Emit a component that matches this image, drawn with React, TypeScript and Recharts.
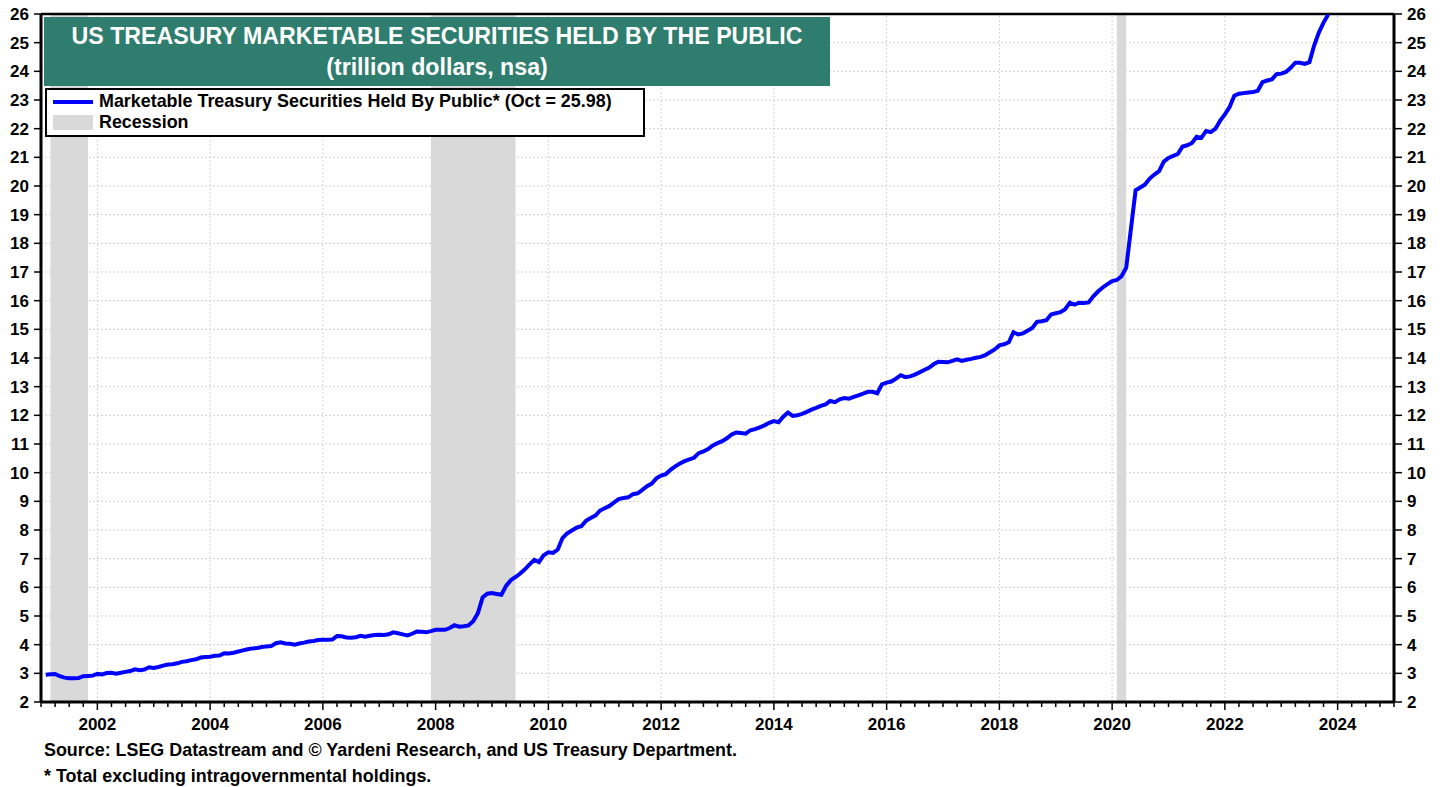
import React from "react";
import {
  LineChart,
  Line,
  XAxis,
  YAxis,
  CartesianGrid,
  ReferenceArea,
  ReferenceLine,
} from "recharts";

// monthly values, trillion dollars (month-end)
const v2001 = [2.95, 2.97, 2.98, 2.9, 2.85, 2.83, 2.83, 2.84, 2.9, 2.91, 2.92, 2.98];
const v2002 = [2.96, 3.01, 3.02, 2.99, 3.02, 3.05, 3.08, 3.14, 3.11, 3.13, 3.21, 3.19];
const v2003 = [3.22, 3.27, 3.31, 3.32, 3.35, 3.4, 3.42, 3.46, 3.49, 3.55, 3.57, 3.58];
const v2004 = [3.61, 3.62, 3.7, 3.69, 3.72, 3.76, 3.8, 3.84, 3.87, 3.88, 3.92, 3.94];
const v2005 = [3.95, 4.05, 4.08, 4.04, 4.03, 4.0, 4.04, 4.07, 4.11, 4.13, 4.16, 4.17];
const v2006 = [4.17, 4.18, 4.3, 4.29, 4.25, 4.24, 4.26, 4.31, 4.28, 4.31, 4.34, 4.35];
const v2007 = [4.34, 4.36, 4.43, 4.4, 4.36, 4.32, 4.38, 4.46, 4.45, 4.43, 4.47, 4.52];
const v2008 = [4.52, 4.52, 4.58, 4.68, 4.63, 4.64, 4.67, 4.82, 5.1, 5.65, 5.78, 5.8];
const v2009 = [5.77, 5.74, 6.05, 6.25, 6.36, 6.48, 6.63, 6.8, 6.96, 6.88, 7.12, 7.22];
const v2010 = [7.2, 7.32, 7.72, 7.88, 7.98, 8.08, 8.13, 8.32, 8.42, 8.5, 8.68, 8.76];
const v2011 = [8.84, 8.96, 9.08, 9.12, 9.14, 9.25, 9.28, 9.4, 9.53, 9.62, 9.8, 9.9];
const v2012 = [9.95, 10.1, 10.22, 10.32, 10.4, 10.46, 10.52, 10.68, 10.74, 10.82, 10.95, 11.03];
const v2013 = [11.1, 11.2, 11.33, 11.4, 11.38, 11.36, 11.48, 11.52, 11.58, 11.65, 11.74, 11.8];
const v2014 = [11.76, 11.95, 12.1, 11.98, 12.0, 12.05, 12.12, 12.2, 12.26, 12.33, 12.38, 12.5];
const v2015 = [12.46, 12.56, 12.6, 12.58, 12.64, 12.7, 12.76, 12.82, 12.82, 12.77, 13.08, 13.14];
const v2016 = [13.18, 13.28, 13.4, 13.33, 13.36, 13.42, 13.5, 13.58, 13.66, 13.78, 13.87, 13.86];
const v2017 = [13.85, 13.9, 13.95, 13.9, 13.94, 13.97, 14.01, 14.04, 14.1, 14.2, 14.3, 14.44];
const v2018 = [14.48, 14.55, 14.9, 14.82, 14.86, 14.95, 15.05, 15.26, 15.28, 15.32, 15.52, 15.56];
const v2019 = [15.6, 15.7, 15.93, 15.86, 15.93, 15.92, 15.94, 16.15, 16.32, 16.46, 16.58, 16.68];
const v2020 = [16.72, 16.85, 17.15, 18.5, 19.85, 19.95, 20.05, 20.26, 20.4, 20.52, 20.85, 20.98];
const v2021 = [21.05, 21.12, 21.38, 21.42, 21.5, 21.72, 21.68, 21.92, 21.88, 22.0, 22.28, 22.5];
const v2022 = [22.75, 23.15, 23.22, 23.24, 23.26, 23.28, 23.32, 23.62, 23.68, 23.72, 23.9, 23.92];
const v2023 = [23.98, 24.12, 24.3, 24.3, 24.26, 24.32, 24.9, 25.35, 25.7, 25.98];

const years = [2001, 2002, 2003, 2004, 2005, 2006, 2007, 2008, 2009, 2010, 2011, 2012,
  2013, 2014, 2015, 2016, 2017, 2018, 2019, 2020, 2021, 2022, 2023];
const yearValues = [v2001, v2002, v2003, v2004, v2005, v2006, v2007, v2008, v2009, v2010,
  v2011, v2012, v2013, v2014, v2015, v2016, v2017, v2018, v2019, v2020, v2021, v2022, v2023];

// recessions as [start, end] in decimal years
const recessions = [
  [2001.167, 2001.833],
  [2007.917, 2009.417],
  [2020.083, 2020.25],
];

const labeledYears = [2002, 2004, 2006, 2008, 2010, 2012, 2014, 2016, 2018, 2020, 2022, 2024];
const yTicks = [2, 3, 4, 5, 6, 7, 8, 9, 10, 11, 12, 13, 14, 15, 16, 17, 18, 19, 20, 21, 22, 23, 24, 25, 26];

const data: { t: number; value: number }[] = [];
years.forEach((yr, i) => {
  yearValues[i].forEach((v, m) => {
    data.push({ t: yr + (m + 1) / 12, value: v });
  });
});

const quarterTicks: number[] = [];
for (let i = 0; i <= 96; i++) quarterTicks.push(2001 + i / 4);

const FONT = "Arial, 'Liberation Sans', sans-serif";

const XTick = (props: any) => {
  const { x, y, payload } = props;
  const v = payload.value;
  const major = labeledYears.includes(v);
  return (
    <g>
      <line x1={x} x2={x} y1={y} y2={y + (major ? 8 : 5)} stroke="#000" strokeWidth={1.5} />
      {major && (
        <text x={x} y={y + 28} textAnchor="middle" fontFamily={FONT} fontWeight="bold" fontSize={17} fill="#000">
          {v}
        </text>
      )}
    </g>
  );
};

const tickStyle = { fontFamily: FONT, fontWeight: "bold", fontSize: 17, fill: "#000" };

export default function App() {
  return (
    <div style={{ position: "absolute", left: 0, top: 0, width: 1446, height: 787, background: "#fff", fontFamily: FONT }}>
      <LineChart width={1446} height={787} data={data} margin={{ top: 14, right: 8, bottom: 55, left: 5 }}>
        <CartesianGrid yAxisId="left" vertical={false} stroke="#cfcfcf" strokeDasharray="2 2" />
        {recessions.map(([a, b], i) => (
          <ReferenceArea key={i} yAxisId="left" x1={a} x2={b} y1={2} y2={26} fill="#d9d9d9" fillOpacity={1} stroke="none" />
        ))}
        {labeledYears.map((yr) => (
          <ReferenceLine key={yr} yAxisId="left" x={yr} stroke="#d4d4d4" strokeDasharray="2 2" />
        ))}
        <XAxis
          dataKey="t"
          type="number"
          domain={[2001, 2025]}
          ticks={quarterTicks}
          interval={0}
          tickSize={0}
          tickMargin={0}
          tick={<XTick />}
          height={30}
          axisLine={{ stroke: "#000", strokeWidth: 3 }}
          allowDataOverflow
        />
        <YAxis
          yAxisId="left"
          domain={[2, 26]}
          ticks={yTicks}
          interval={0}
          width={36}
          tickSize={7}
          tickMargin={5}
          tick={tickStyle}
          tickLine={{ stroke: "#000", strokeWidth: 1.5 }}
          axisLine={{ stroke: "#000", strokeWidth: 3 }}
          allowDataOverflow
        />
        <YAxis
          yAxisId="right"
          orientation="right"
          domain={[2, 26]}
          ticks={yTicks}
          interval={0}
          width={44}
          tickSize={8}
          tickMargin={5}
          tick={tickStyle}
          tickLine={{ stroke: "#000", strokeWidth: 1.5 }}
          axisLine={{ stroke: "#000", strokeWidth: 3 }}
          allowDataOverflow
        />
        <ReferenceLine yAxisId="left" y={26} stroke="#000" strokeWidth={2.5} />
        <Line
          yAxisId="left"
          type="linear"
          dataKey="value"
          stroke="#0000ff"
          strokeWidth={4}
          dot={false}
          isAnimationActive={false}
        />
      </LineChart>

      <div
        style={{
          position: "absolute",
          left: 44,
          top: 17,
          width: 786,
          height: 69,
          background: "#2f7d6e",
          color: "#fff",
          fontWeight: "bold",
          fontSize: 23.2,
          textAlign: "center",
          lineHeight: "31px",
          paddingTop: 4,
          boxSizing: "border-box",
        }}
      >
        <div>US TREASURY MARKETABLE SECURITIES HELD BY THE PUBLIC</div>
        <div>(trillion dollars, nsa)</div>
      </div>

      <div
        style={{
          position: "absolute",
          left: 45,
          top: 88,
          width: 600,
          height: 49,
          background: "#fff",
          border: "2px solid #000",
          boxSizing: "border-box",
          fontWeight: "bold",
          fontSize: 17.9,
          color: "#000",
        }}
      >
        <div style={{ position: "absolute", left: 6, top: 10, width: 40, height: 4, background: "#0000ff" }} />
        <div style={{ position: "absolute", left: 52, top: 1, lineHeight: "21px" }}>
          Marketable Treasury Securities Held By Public* (Oct = 25.98)
        </div>
        <div style={{ position: "absolute", left: 6, top: 25, width: 40, height: 15, background: "#d9d9d9" }} />
        <div style={{ position: "absolute", left: 52, top: 22, lineHeight: "21px" }}>Recession</div>
      </div>

      <div style={{ position: "absolute", left: 44, top: 737, fontWeight: "bold", fontSize: 17.9, color: "#000", lineHeight: "26px" }}>
        <div>Source: LSEG Datastream and © Yardeni Research, and US Treasury Department.</div>
        <div>* Total excluding intragovernmental holdings.</div>
      </div>
    </div>
  );
}
